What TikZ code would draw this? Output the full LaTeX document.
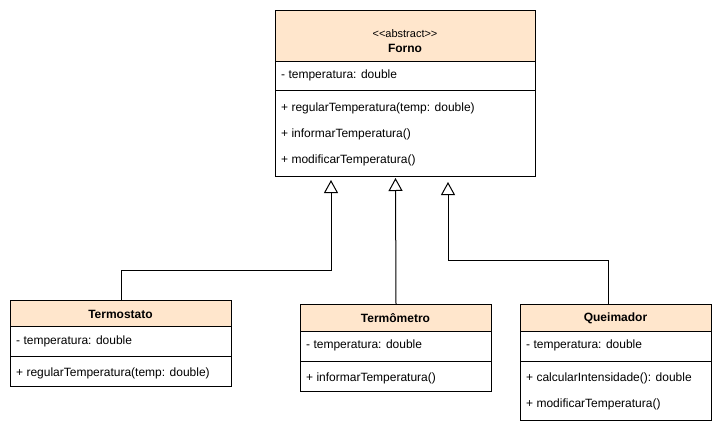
\documentclass[tikz,border=0pt]{standalone}
\usepackage{fontspec}
\setmainfont{Liberation Sans}
\usetikzlibrary{arrows.meta}
\definecolor{hdr}{HTML}{FFE6CC}
\begin{document}
\begin{tikzpicture}[x=1pt,y=-1pt,
  cls/.style={draw, line width=1pt, inner sep=0pt, anchor=north west},
  txt/.style={anchor=west, inner sep=0pt, font=\fontsize{12}{14}\selectfont},
  ttl/.style={inner sep=0pt, font=\fontsize{12}{14}\selectfont\bfseries},
  sep/.style={line width=1pt},
  gen/.style={line width=1pt, -{Triangle[open, length=13pt, width=14pt]}}]
\useasboundingbox (0,0) rectangle (721,434);
% Forno
\fill[hdr] (275,10) rectangle (535,61);
\node[cls, minimum width=260pt, minimum height=166pt] (forno) at (275,10) {};
\draw[sep] (275,61) -- (535,61);
\draw[sep] (275,90) -- (535,90);
\node[inner sep=0pt, font=\fontsize{11}{13}\selectfont] (fst) at (405,34) {{<}{<}abstract{>}{>}};
\node[ttl] (fname) at (405,48) {Forno};
\node[txt] (fa) at (281,75) {- temperatura: double};
\node[txt] (fm1) at (281,108) {+ regularTemperatura(temp: double)};
\node[txt] (fm2) at (281,134) {+ informarTemperatura()};
\node[txt] (fm3) at (281,160) {+ modificarTemperatura()};
% Termostato
\fill[hdr] (10,300) rectangle (231,326);
\node[cls, minimum width=221pt, minimum height=86pt] (termostato) at (10,300) {};
\draw[sep] (10,326) -- (231,326);
\draw[sep] (10,356) -- (231,356);
\node[ttl] (tname) at (120.5,314) {Termostato};
\node[txt] (ta) at (16,341) {- temperatura: double};
\node[txt] (tm1) at (16,373) {+ regularTemperatura(temp: double)};
% Termometro
\fill[hdr] (300,304) rectangle (491,331);
\node[cls, minimum width=191pt, minimum height=87pt] (termometro) at (300,304) {};
\draw[sep] (300,331) -- (491,331);
\draw[sep] (300,361) -- (491,361);
\node[ttl] (mname) at (395.5,318) {Termômetro};
\node[txt] (ma) at (306,345) {- temperatura: double};
\node[txt] (mm1) at (306,378) {+ informarTemperatura()};
% Queimador
\fill[hdr] (520,304) rectangle (711,331);
\node[cls, minimum width=191pt, minimum height=116pt] (queimador) at (520,304) {};
\draw[sep] (520,331) -- (711,331);
\draw[sep] (520,361) -- (711,361);
\node[ttl] (qname) at (615.5,318) {Queimador};
\node[txt] (qa) at (526,345) {- temperatura: double};
\node[txt] (qm1) at (526,378) {+ calcularIntensidade(): double};
\node[txt] (qm2) at (526,404) {+ modificarTemperatura()};
% connectors
\coordinate (t1) at (331,180);
\coordinate (t2) at (395.5,178);
\coordinate (t3) at (448,182);
\draw[gen] (termostato.north) |- (331,270) -- (t1);
\draw[gen] (termometro.north) -- (t2);
\draw[gen] ([xshift=-7.5pt]queimador.north) |- (448,260) -- (t3);
\end{tikzpicture}
\end{document}
